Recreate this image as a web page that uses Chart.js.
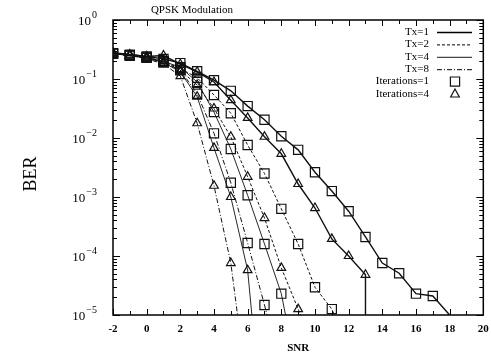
<!DOCTYPE html>
<html>
<head>
<meta charset="utf-8">
<style>
  html, body { margin: 0; padding: 0; background: #fff; }
</style>
<script src="https://cdn.jsdelivr.net/npm/chart.js@4/dist/chart.umd.min.js"></script>
</head>
<body>
<canvas id="mychart" width="491" height="360"></canvas>
<script>
// SNR (x) and BER (y); last point of each curve is where it meets the 1e-5 axis
const snrTx1It1 = [-2, -1, 0, 1, 2, 3, 4, 5, 6, 7, 8, 9, 10, 11, 12, 13, 14, 15, 16, 17, 18];
const berTx1It1 = [0.275, 0.257, 0.24, 0.219, 0.186, 0.135, 0.0955, 0.063, 0.0347, 0.0204, 0.0107, 0.0063, 0.00263, 0.00126, 5.75e-4, 2.1e-4, 7.6e-5, 5.1e-5, 2.3e-5, 2.1e-5, 1e-5];

const snrTx1It4 = [-2, -1, 0, 1, 2, 3, 4, 5, 6, 7, 8, 9, 10, 11, 12, 13, 13];
const berTx1It4 = [0.28, 0.26, 0.24, 0.25, 0.178, 0.132, 0.089, 0.0437, 0.0219, 0.0105, 0.0054, 0.00166, 6.5e-4, 1.95e-4, 1.0e-4, 4.8e-5, 1e-5];

const snrTx2It1 = [-2, -1, 0, 1, 2, 3, 4, 5, 6, 7, 8, 9, 10, 11, 11.15];
const berTx2It1 = [0.27, 0.25, 0.23, 0.2, 0.151, 0.105, 0.0537, 0.0263, 0.0076, 0.0025, 6.3e-4, 1.6e-4, 2.95e-5, 1.26e-5, 1e-5];

const snrTx2It4 = [-2, -1, 0, 1, 2, 3, 4, 5, 6, 7, 8, 9, 9.15];
const berTx2It4 = [0.27, 0.25, 0.23, 0.2, 0.141, 0.079, 0.0316, 0.0105, 0.0022, 4.4e-4, 6.3e-5, 1.26e-5, 1e-5];

const snrTx4It1 = [-2, -1, 0, 1, 2, 3, 4, 5, 6, 7, 8, 8.25];
const berTx4It1 = [0.27, 0.25, 0.23, 0.2, 0.158, 0.089, 0.0275, 0.0065, 0.00107, 1.6e-4, 2.3e-5, 1e-5];

const snrTx4It4 = [-2, -1, 0, 1, 2, 3, 4, 5, 6, 6.25];
const berTx4It4 = [0.27, 0.25, 0.23, 0.19, 0.132, 0.05, 0.0068, 1.0e-3, 5.75e-5, 1e-5];

const snrTx8It1 = [-2, -1, 0, 1, 2, 3, 4, 5, 6, 7, 7.15];
const berTx8It1 = [0.27, 0.25, 0.23, 0.19, 0.141, 0.056, 0.012, 0.00174, 1.66e-4, 1.48e-5, 1e-5];

const snrTx8It4 = [-2, -1, 0, 1, 2, 3, 4, 5, 5.4];
const berTx8It4 = [0.27, 0.25, 0.22, 0.18, 0.112, 0.0178, 0.00155, 7.6e-5, 1e-5];

const xTickLabels = [-2, 0, 2, 4, 6, 8, 10, 12, 14, 16, 18, 20];
const yDecades = [0, -1, -2, -3, -4, -5];
const txLabels = ['Tx=1', 'Tx=2', 'Tx=4', 'Tx=8'];
const iterLabels = ['Iterations=1', 'Iterations=4'];

const serif = "'Liberation Serif', 'DejaVu Serif', serif";
const lineStyles = {
    'Tx=1': { dash: [], width: 1.4 },
    'Tx=2': { dash: [3, 2], width: 1 },
    'Tx=4': { dash: [], width: 0.9 },
    'Tx=8': { dash: [5, 2, 1, 2], width: 1 }
};
const markerStyles = {
    'Iterations=1': { style: 'rect', radius: 6.5 },
    'Iterations=4': { style: 'triangle', radius: 5 }
};

const makeSet = (snr, ber, tx, iter) => {
    const ls = lineStyles[tx];
    const ms = markerStyles[iter];
    return {
        label: tx + ' ' + iter,
        data: snr.map((x, i) => ({ x: x, y: ber[i] })),
        showLine: true,
        borderColor: '#111',
        borderWidth: ls.width,
        borderDash: ls.dash,
        pointStyle: ms.style,
        pointRadius: c => c.dataIndex === snr.length - 1 ? 0 : ms.radius,
        pointBorderWidth: 1.2,
        pointBorderColor: '#111',
        pointBackgroundColor: 'rgba(0,0,0,0)',
        tension: 0
    };
};

const drawMarker = (ctx, style, r, x, y) => {
    ctx.save();
    ctx.setLineDash([]);
    ctx.lineWidth = 1.2;
    ctx.strokeStyle = '#111';
    ctx.beginPath();
    if (style === 'rect') {
        const h = r * Math.SQRT1_2;
        ctx.rect(x - h, y - h, 2 * h, 2 * h);
    } else {
        ctx.moveTo(x, y - r);
        ctx.lineTo(x + r * 0.866, y + r * 0.5 + 0.5);
        ctx.lineTo(x - r * 0.866, y + r * 0.5 + 0.5);
        ctx.closePath();
    }
    ctx.stroke();
    ctx.restore();
};

const decor = {
    id: 'decor',
    afterDraw(chart) {
        const ctx = chart.ctx;
        const a = chart.chartArea;
        const xs = chart.scales.x;
        const ys = chart.scales.y;
        ctx.save();
        ctx.strokeStyle = '#000';
        ctx.fillStyle = '#000';

        // frame
        ctx.lineWidth = 1.5;
        ctx.strokeRect(a.left, a.top, a.right - a.left, a.bottom - a.top);

        // x ticks, inward, top and bottom
        ctx.lineWidth = 1;
        for (let v = -2; v <= 20; v++) {
            const px = Math.round(xs.getPixelForValue(v)) + 0.5;
            const len = v % 2 === 0 ? 6 : 4;
            ctx.beginPath();
            ctx.moveTo(px, a.bottom); ctx.lineTo(px, a.bottom - len);
            ctx.moveTo(px, a.top); ctx.lineTo(px, a.top + len);
            ctx.stroke();
        }

        // y ticks, log decades and minors
        yDecades.forEach(d => {
            const py = Math.round(ys.getPixelForValue(Math.pow(10, d))) + 0.5;
            ctx.beginPath();
            ctx.moveTo(a.left, py); ctx.lineTo(a.left + 7, py);
            ctx.moveTo(a.right, py); ctx.lineTo(a.right - 7, py);
            ctx.stroke();
            if (d < 0) {
                for (let m = 2; m <= 9; m++) {
                    const pm = Math.round(ys.getPixelForValue(m * Math.pow(10, d))) + 0.5;
                    ctx.beginPath();
                    ctx.moveTo(a.left, pm); ctx.lineTo(a.left + 4, pm);
                    ctx.moveTo(a.right, pm); ctx.lineTo(a.right - 4, pm);
                    ctx.stroke();
                }
            }
            // label 10^d
            const exp = d === 0 ? '0' : '\u2212' + (-d);
            ctx.font = '10px ' + serif;
            const ew = ctx.measureText(exp).width;
            ctx.textAlign = 'right';
            ctx.textBaseline = 'alphabetic';
            ctx.fillText(exp, 97, py - 3);
            ctx.font = '13px ' + serif;
            ctx.fillText('10', 97 - ew - 1, py + 4);
        });

        // axis titles and chart title
        ctx.textAlign = 'center';
        ctx.textBaseline = 'middle';
        ctx.font = 'bold 11px ' + serif;
        ctx.fillText('SNR', (a.left + a.right) / 2, 348);
        ctx.font = '11px ' + serif;
        ctx.fillText('QPSK Modulation', 192, 10);
        ctx.save();
        ctx.translate(31, 174);
        ctx.rotate(-Math.PI / 2);
        ctx.font = '18px ' + serif;
        ctx.fillText('BER', 0, 0);
        ctx.restore();

        // legend
        ctx.font = '11px ' + serif;
        ctx.textAlign = 'right';
        let row = 32;
        txLabels.forEach(t => {
            const ls = lineStyles[t];
            ctx.fillText(t, 429, row);
            ctx.save();
            ctx.lineWidth = ls.width;
            ctx.setLineDash(ls.dash);
            ctx.beginPath();
            ctx.moveTo(437, row + 0.5); ctx.lineTo(472, row + 0.5);
            ctx.stroke();
            ctx.restore();
            row += 12.4;
        });
        iterLabels.forEach(t => {
            const ms = markerStyles[t];
            ctx.fillText(t, 429, row);
            drawMarker(ctx, ms.style, ms.radius, 455, row);
            row += 12.4;
        });
        ctx.restore();
    }
};

const ctx = document.getElementById('mychart').getContext('2d');
let myChart = new Chart(ctx, {
    type: 'scatter',
    data: {
        datasets: [
            makeSet(snrTx1It1, berTx1It1, 'Tx=1', 'Iterations=1'),
            makeSet(snrTx1It4, berTx1It4, 'Tx=1', 'Iterations=4'),
            makeSet(snrTx2It1, berTx2It1, 'Tx=2', 'Iterations=1'),
            makeSet(snrTx2It4, berTx2It4, 'Tx=2', 'Iterations=4'),
            makeSet(snrTx4It1, berTx4It1, 'Tx=4', 'Iterations=1'),
            makeSet(snrTx4It4, berTx4It4, 'Tx=4', 'Iterations=4'),
            makeSet(snrTx8It1, berTx8It1, 'Tx=8', 'Iterations=1'),
            makeSet(snrTx8It4, berTx8It4, 'Tx=8', 'Iterations=4')
        ]
    },
    options: {
        responsive: false,
        animation: false,
        layout: { padding: { top: 20, right: 4, left: 0, bottom: 0 } },
        plugins: { legend: { display: false }, tooltip: { enabled: false } },
        scales: {
            x: {
                type: 'linear',
                min: -2,
                max: 20,
                afterFit: s => { s.height = 45; s.paddingLeft = 0; s.paddingRight = 0; },
                grid: { display: false, drawTicks: false },
                border: { display: false },
                ticks: {
                    stepSize: 2,
                    padding: 8,
                    color: '#000',
                    maxRotation: 0,
                    autoSkip: false,
                    font: { family: serif, size: 11, weight: 'bold' },
                    callback: v => xTickLabels.includes(v) ? String(v) : ''
                }
            },
            y: {
                type: 'logarithmic',
                min: 1e-5,
                max: 1,
                afterFit: s => { s.width = 113; s.paddingTop = 0; s.paddingBottom = 0; },
                grid: { display: false, drawTicks: false },
                border: { display: false },
                ticks: { display: false }
            }
        }
    },
    plugins: [decor]
});
</script>
</body>
</html>
